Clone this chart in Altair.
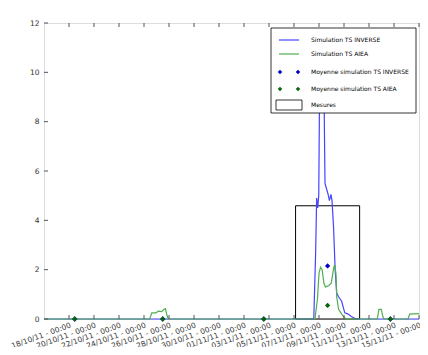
import altair as alt
import pandas as pd

T0 = pd.Timestamp("2011-10-16 00:00")

# Simulation TS INVERSE (hours since 16/10/11 00:00, value)
inv_hours = [0, 518, 521.5, 523.5, 525.5, 527.5, 529, 533, 536, 538, 539.5, 543.5, 545.5,
             548, 551, 553, 556, 559, 562, 565.5, 571.5, 577.5, 584, 590, 596.5, 601.5, 720]
inv_vals = [0, 0, 2.65, 4.9, 4.5, 5.0, 9.0, 10.8, 10.0, 8.5, 5.5, 5.2, 5.05,
            4.8, 5.05, 4.8, 3.7, 2.0, 1.05, 0.9, 0.72, 0.25, 0.2, 0.1, 0.03, 0, 0]

# Simulation TS AIEA
aiea_hours = [0, 203, 207, 215, 220, 226, 230, 233, 235.5, 238.5,
              519, 520.5, 525, 528, 531, 534, 537.5, 540.5, 546.5, 551.5,
              556, 558, 560.5, 562, 565.5, 571.5, 577, 581,
              640, 643, 647.5, 650.5, 653, 699, 702, 720]
aiea_vals = [0, 0, 0.25, 0.25, 0.32, 0.3, 0.39, 0.42, 0.2, 0,
             0, 0.05, 0.8, 1.85, 2.1, 2.0, 1.45, 1.3, 1.35, 1.45,
             2.05, 2.2, 1.85, 0.9, 0.4, 0.2, 0.05, 0,
             0, 0.39, 0.39, 0.1, 0, 0, 0.2, 0.22]

# Mean markers
mean_hours = [59, 228, 422, 544.5, 665]
mean_inverse = [0, 0, 0, 2.15, 0]
mean_aiea = [0, 0, 0, 0.55, 0]

# Measurement
mes_start = ["2011-11-05T03:00:00"]
mes_end = ["2011-11-10T06:00:00"]
mes_val = [4.59]

tick_dates = ["2011-10-18", "2011-10-20", "2011-10-22", "2011-10-24", "2011-10-26",
              "2011-10-28", "2011-10-30", "2011-11-01", "2011-11-03", "2011-11-05",
              "2011-11-07", "2011-11-09", "2011-11-11", "2011-11-13", "2011-11-15"]
y_ticks = [0, 2, 4, 6, 8, 10, 12]


def iso(hours):
    return [(T0 + pd.Timedelta(hours=h)).strftime("%Y-%m-%dT%H:%M:%S") for h in hours]


inv_df = pd.DataFrame({"t": iso(inv_hours), "v": inv_vals})
aiea_df = pd.DataFrame({"t": iso(aiea_hours), "v": aiea_vals})
minv_df = pd.DataFrame({"t": iso(mean_hours), "v": mean_inverse})
maiea_df = pd.DataFrame({"t": iso(mean_hours), "v": mean_aiea})
mes_df = pd.DataFrame({"t": mes_start, "t2": mes_end, "v": mes_val, "b": [0]})
xt_df = pd.DataFrame({"t": [d + "T00:00:00" for d in tick_dates]})
yt_df = pd.DataFrame({"v": y_ticks})

FONT = "DejaVu Sans"
W, H = 375, 296

xscale = alt.Scale(domain=[alt.DateTime(year=2011, month=10, date=16),
                           alt.DateTime(year=2011, month=11, date=15)], nice=False)
xaxis = alt.Axis(values=[alt.DateTime(year=int(d[:4]), month=int(d[5:7]), date=int(d[8:10]))
                         for d in tick_dates],
                 format="%d/%m/%y - %H:%M", labelAngle=340, labelAlign="right",
                 labelBaseline="top", labelPadding=2, labelFontSize=7.5, labelFont=FONT,
                 labelColor="#333333", labelOverlap=False, labelFlush=False, labelBound=False,
                 ticks=False, domain=False, grid=False, title=None)
X = alt.X("t:T", scale=xscale, axis=xaxis)

yscale = alt.Scale(domain=[0, 12], nice=False, zero=True)
yaxis = alt.Axis(values=y_ticks, ticks=False, domain=False, grid=False, labelFontSize=7.5,
                 labelFont=FONT, labelColor="#333333", labelPadding=5, title=None)
Y = alt.Y("v:Q", scale=yscale, axis=yaxis)

mes = alt.Chart(mes_df).mark_rect(fillOpacity=0, stroke="black", strokeWidth=1).encode(
    x=X, x2="t2:T", y=Y, y2="b:Q")
inv_line = alt.Chart(inv_df).mark_line(color="#4444ff", strokeWidth=1.2).encode(x=X, y=Y)
aiea_line = alt.Chart(aiea_df).mark_line(color="#4fae4f", strokeWidth=1.2).encode(x=X, y=Y)
minv_pts = alt.Chart(minv_df).mark_point(shape="diamond", filled=True, size=28, opacity=1,
                                          color="#0000c8").encode(x=X, y=Y)
maiea_pts = alt.Chart(maiea_df).mark_point(shape="diamond", filled=True, size=28, opacity=1,
                                            color="#0a640a").encode(x=X, y=Y)

TICKC = "#555555"
xt_bottom = alt.Chart(xt_df).mark_rule(color=TICKC, strokeWidth=1).encode(
    x=X, y=alt.value(H), y2=alt.value(H - 4))
xt_top = alt.Chart(xt_df).mark_rule(color=TICKC, strokeWidth=1).encode(
    x=X, y=alt.value(0), y2=alt.value(4))
yt_left = alt.Chart(yt_df).mark_rule(color=TICKC, strokeWidth=1).encode(
    y=Y, x=alt.value(0), x2=alt.value(4))

# Legend (drawn manually)
LX = 227
one = alt.Data(values=[{"a": 1}])
leg = []
leg.append(alt.Chart(one).mark_rect(fill="white", stroke="black", strokeWidth=0.8).encode(
    x=alt.value(LX), x2=alt.value(LX + 145), y=alt.value(5), y2=alt.value(90)))
leg.append(alt.Chart(one).mark_rule(color="#4444ff", strokeWidth=1.2).encode(
    x=alt.value(LX + 8), x2=alt.value(LX + 28), y=alt.value(17)))
leg.append(alt.Chart(one).mark_rule(color="#4fae4f", strokeWidth=1.2).encode(
    x=alt.value(LX + 8), x2=alt.value(LX + 28), y=alt.value(31)))
for dx in (9, 27):
    leg.append(alt.Chart(one).mark_point(shape="diamond", filled=True, size=20, opacity=1,
                                         color="#0000c8").encode(x=alt.value(LX + dx), y=alt.value(49)))
    leg.append(alt.Chart(one).mark_point(shape="diamond", filled=True, size=20, opacity=1,
                                         color="#0a640a").encode(x=alt.value(LX + dx), y=alt.value(66)))
leg.append(alt.Chart(one).mark_rect(fill="white", stroke="black", strokeWidth=0.8).encode(
    x=alt.value(LX + 5), x2=alt.value(LX + 31), y=alt.value(77), y2=alt.value(87)))
labels = ["Simulation  TS INVERSE", "Simulation  TS AIEA", "Moyenne simulation  TS INVERSE",
          "Moyenne simulation  TS AIEA", "Mesures"]
rows = [17, 31, 49, 66, 82]
for lab, ry in zip(labels, rows):
    leg.append(alt.Chart(one).mark_text(text=lab, align="left", baseline="middle", fontSize=6,
                                        font=FONT, color="black").encode(
        x=alt.value(LX + 40), y=alt.value(ry)))

chart = alt.layer(mes, inv_line, aiea_line, minv_pts, maiea_pts, xt_bottom, xt_top, yt_left,
                  *leg).properties(
    width=W, height=H,
    title=alt.TitleParams("Charleville-Mezieres", fontSize=12.4, font=FONT, fontWeight="normal",
                          color="black", anchor="middle", baseline="alphabetic", offset=4),
    autosize=alt.AutoSizeParams(type="none"),
    padding={"left": 36, "top": 15, "right": 1, "bottom": 28},
).configure_view(stroke="#777777", strokeWidth=1.5).configure(background="white")

chart.save("out.html", embed_options={"renderer": "svg", "actions": False})
